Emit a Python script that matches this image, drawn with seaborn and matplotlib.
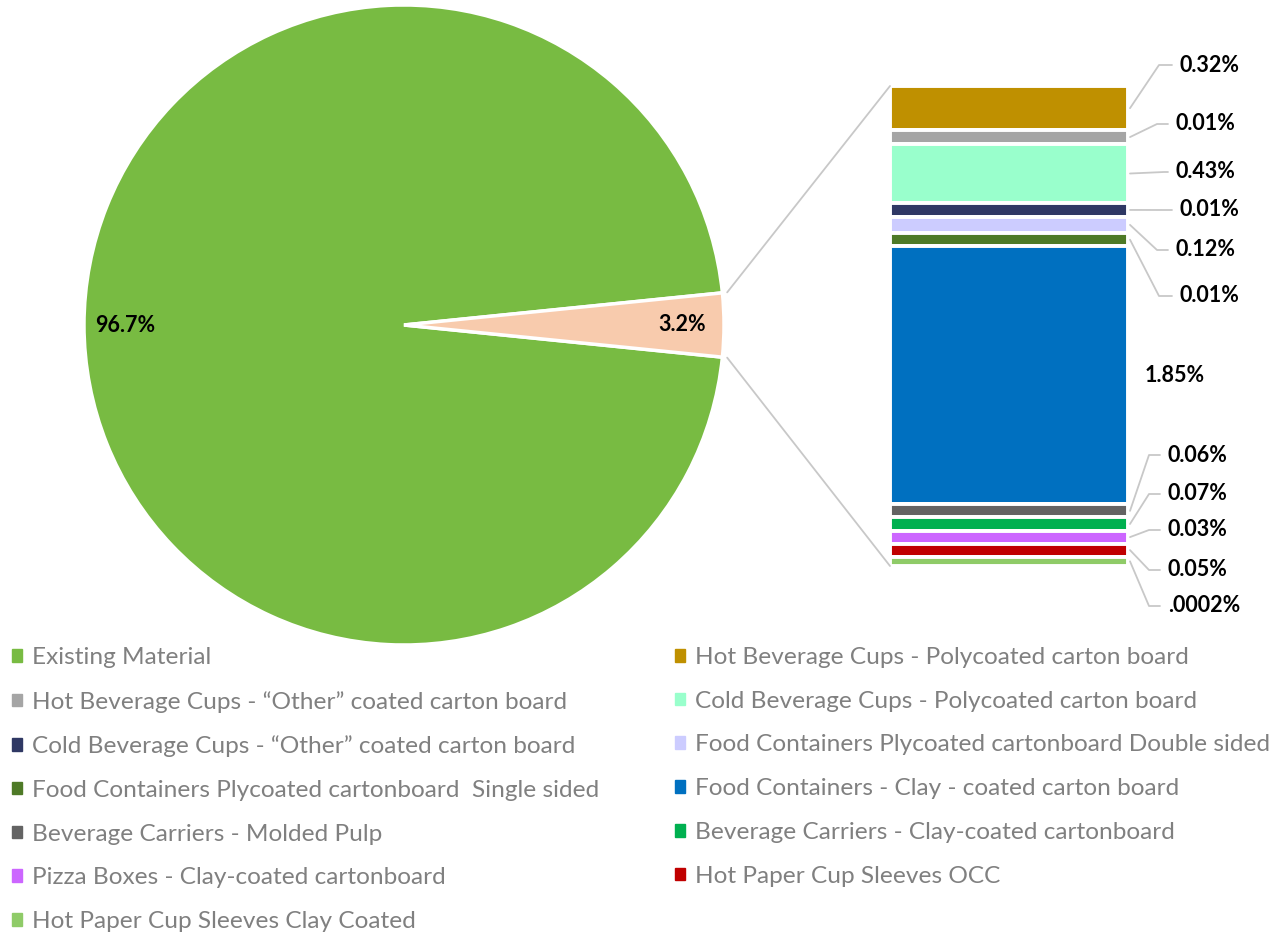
import numpy as np
import matplotlib
matplotlib.use("Agg")
import matplotlib.pyplot as plt
from matplotlib.patches import Patch, ConnectionPatch
from matplotlib.lines import Line2D
import seaborn as sns

sns.set_style("white")
plt.rcParams['font.family'] = ['Lato', 'DejaVu Sans']

# --- data ---
pie_names = ["Existing Material", "New packaging"]
pie_values = [96.7, 3.2]
pie_text = ["96.7%", "3.2%"]
pie_colors = ["#78BB42", "#F8CBAD"]

bar_names = [
    "Hot Beverage Cups - Polycoated carton board",
    "Hot Beverage Cups - \u201cOther\u201d coated carton board",
    "Cold Beverage Cups - Polycoated carton board",
    "Cold Beverage Cups - \u201cOther\u201d coated carton board",
    "Food Containers Plycoated cartonboard Double sided",
    "Food Containers Plycoated cartonboard  Single sided",
    "Food Containers - Clay - coated carton board",
    "Beverage Carriers - Molded Pulp",
    "Beverage Carriers - Clay-coated cartonboard",
    "Pizza Boxes - Clay-coated cartonboard",
    "Hot Paper Cup Sleeves OCC",
    "Hot Paper Cup Sleeves Clay Coated",
]
# segment sizes as drawn in the bar (share of total, %)
bar_values = [0.318, 0.096, 0.426, 0.096, 0.118, 0.094, 1.85, 0.092, 0.096, 0.092, 0.094, 0.067]
bar_text = ["0.32%", "0.01%", "0.43%", "0.01%", "0.12%", "0.01%", "1.85%",
            "0.06%", "0.07%", "0.03%", "0.05%", ".0002%"]
bar_colors = ["#BF9000", "#A5A5A5", "#99FFCC", "#2F3864", "#CCCCFF", "#4E7A27",
              "#0070C0", "#636363", "#00B050", "#CC66FF", "#C00000", "#8FCB68"]

# --- label layout (figure pixels from top) ---
label_y = [65, 124, 172, 210, 250, 296, 376, 455, 494, 530, 570, 606]
elbow_x = [1159, 1157, 1164, 1164, 1157, 1159, None, 1149, 1149, 1149, 1149, 1149]
text_x = [1180, 1176, 1176, 1180, 1176, 1180, 1145, 1168, 1168, 1168, 1168, 1168]

W, H = 1282, 934
fig = plt.figure(figsize=(W / 100, H / 100), dpi=100)
line_col = "#C8C8C8"

# --- pie ---
ax_pie = fig.add_axes([84 / W, 1 - 645 / H, 640 / W, 640 / H])
start = 180 * pie_values[1] / sum(pie_values)
wedges, _ = ax_pie.pie(pie_values, colors=pie_colors, startangle=start,
                       wedgeprops=dict(edgecolor="white", linewidth=2.5))
ax_pie.set_xlim(-1, 1)
ax_pie.set_ylim(-1, 1)
for w, txt in zip(wedges, pie_text):
    ang = np.deg2rad((w.theta1 + w.theta2) / 2)
    ax_pie.text(0.87 * np.cos(ang), 0.87 * np.sin(ang), txt, ha="center", va="center",
                fontsize=15.5, fontweight="bold", color="black")

# --- bar ---
ax_bar = fig.add_axes([890 / W, 1 - 566 / H, 238 / W, 480 / H])
total = sum(bar_values)
bottoms = total - np.cumsum(bar_values)
ax_bar.bar(np.zeros(len(bar_values)), bar_values, bottom=bottoms, width=1,
           color=bar_colors, edgecolor="white", linewidth=2.8)
ax_bar.set_xlim(-0.5, 0.5)
ax_bar.set_ylim(0, total)
ax_bar.axis("off")

# connectors pie -> bar
small = wedges[1]
for theta, yb in [(small.theta2, total), (small.theta1, 0)]:
    t = np.deg2rad(theta)
    con = ConnectionPatch(xyA=(1.015 * np.cos(t), 1.015 * np.sin(t)), coordsA=ax_pie.transData,
                          xyB=(-0.5, yb), coordsB=ax_bar.transData,
                          color=line_col, linewidth=1.3)
    fig.add_artist(con)

# value labels with leader lines
for i, txt in enumerate(bar_text):
    ly = H - label_y[i]
    if elbow_x[i] is not None:
        mid = bottoms[i] + bar_values[i] / 2
        sx, sy = ax_bar.transData.transform((0.5, mid))
        xs = np.array([sx + 2, elbow_x[i], text_x[i] - 8]) / W
        ys = np.array([sy, ly, ly]) / H
        fig.add_artist(Line2D(xs, ys, transform=fig.transFigure, color=line_col, linewidth=1.3))
    fig.text(text_x[i] / W, ly / H, txt, ha="left", va="center",
             fontsize=15.5, fontweight="bold", color="black")

# --- legend (two columns, row-major order) ---
names = [pie_names[0]] + bar_names
colors = [pie_colors[0]] + bar_colors
handles = [Patch(facecolor=c, edgecolor=c, label=n) for n, c in zip(names, colors)]
leg_kw = dict(loc="upper left", frameon=False, fontsize=17.6, labelcolor="#808080",
              handlelength=0.42, handleheight=0.42, handletextpad=0.4,
              labelspacing=0.93, borderpad=0, borderaxespad=0)
fig.legend(handles=handles[0::2], bbox_to_anchor=(12 / W, 1 - 647 / H), **leg_kw)
fig.legend(handles=handles[1::2], bbox_to_anchor=(675 / W, 1 - 647 / H), **leg_kw)

plt.savefig("out.png", dpi=100)
